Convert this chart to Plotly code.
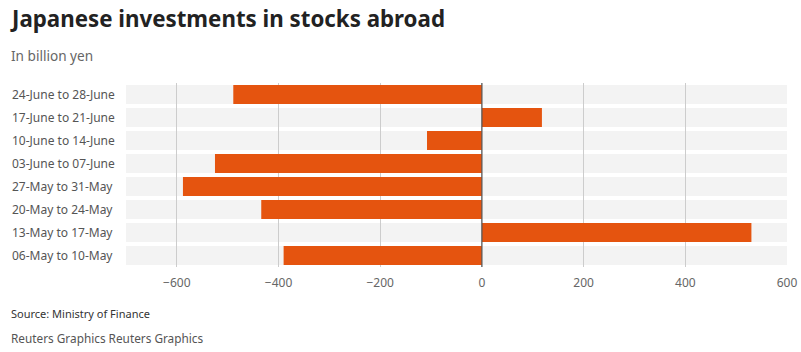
import plotly.graph_objects as go

categories = ["06-May to 10-May", "13-May to 17-May", "20-May to 24-May", "27-May to 31-May",
              "03-June to 07-June", "10-June to 14-June", "17-June to 21-June", "24-June to 28-June"]
values = [-390, 530, -434, -588, -525, -108, 118, -489]
tick_vals = [-600, -400, -200, 0, 200, 400, 600]

W, H = 801, 352
ml, mr, mt, mb = 126, 14, 83, 85
FONT = "Noto Sans"
PW = W - ml - mr
PH = H - mt - mb

fig = go.Figure()
fig.add_trace(go.Bar(
    y=categories, x=values, orientation="h",
    marker=dict(color="#e5540f", line=dict(width=0)),
    hoverinfo="x+y",
))

shapes = []
for idx, c in enumerate(categories):
    shapes.append(dict(type="rect", xref="paper", yref="y", x0=0, x1=1,
                       y0=idx - 0.41, y1=idx + 0.41, fillcolor="#f3f3f3",
                       line=dict(width=0), layer="below"))
shapes.append(dict(type="line", xref="x", yref="paper", x0=0, x1=0, y0=0, y1=1,
                   line=dict(color="#555555", width=1.2), layer="above"))

def px_x(p):
    return (p - ml) / PW

def px_y(p):
    return 1 - (p - mt) / PH

annotations = []
for i, c in enumerate(categories):
    annotations.append(dict(text=c, xref="paper", yref="y", borderpad=0,
                            x=px_x(11), y=i, xanchor="left", yanchor="middle",
                            showarrow=False, font=dict(family=FONT, size=12, color="#555555")))
annotations += [
    dict(text="<b>Japanese investments in stocks abroad</b>", xref="paper", yref="paper", borderpad=0,
         x=px_x(9), y=px_y(18), xanchor="left", yanchor="middle",
         showarrow=False, font=dict(family=FONT, size=22.3, color="#222222")),
    dict(text="In billion yen", xref="paper", yref="paper", borderpad=0,
         x=px_x(10), y=px_y(55), xanchor="left", yanchor="middle",
         showarrow=False, font=dict(family=FONT, size=13.6, color="#666666")),
    dict(text="Source: Ministry of Finance", xref="paper", yref="paper", borderpad=0,
         x=px_x(10), y=px_y(313), xanchor="left", yanchor="middle",
         showarrow=False, font=dict(family=FONT, size=11, color="#333333")),
    dict(text="Reuters Graphics Reuters Graphics", xref="paper", yref="paper", borderpad=0,
         x=px_x(10), y=px_y(338), xanchor="left", yanchor="middle",
         showarrow=False, font=dict(family=FONT, size=11.8, color="#555555")),
]

fig.update_layout(
    width=W, height=H, margin=dict(l=ml, r=mr, t=mt, b=mb, pad=0, autoexpand=False),
    paper_bgcolor="white", plot_bgcolor="white",
    showlegend=False, bargap=0.18,
    shapes=shapes, annotations=annotations,
    xaxis=dict(range=[-700, 600], tickvals=tick_vals, showgrid=True, gridcolor="#cccccc",
               gridwidth=1, zeroline=False, showline=False, ticks="", automargin=False,
               ticklabelstandoff=7,
               tickfont=dict(family=FONT, size=12, color="#666666")),
    yaxis=dict(showticklabels=False, showgrid=False, zeroline=False, ticks="", automargin=False,
               range=[-0.5, len(categories) - 0.5]),
    font=dict(family=FONT),
)

fig.write_html("out.html")
